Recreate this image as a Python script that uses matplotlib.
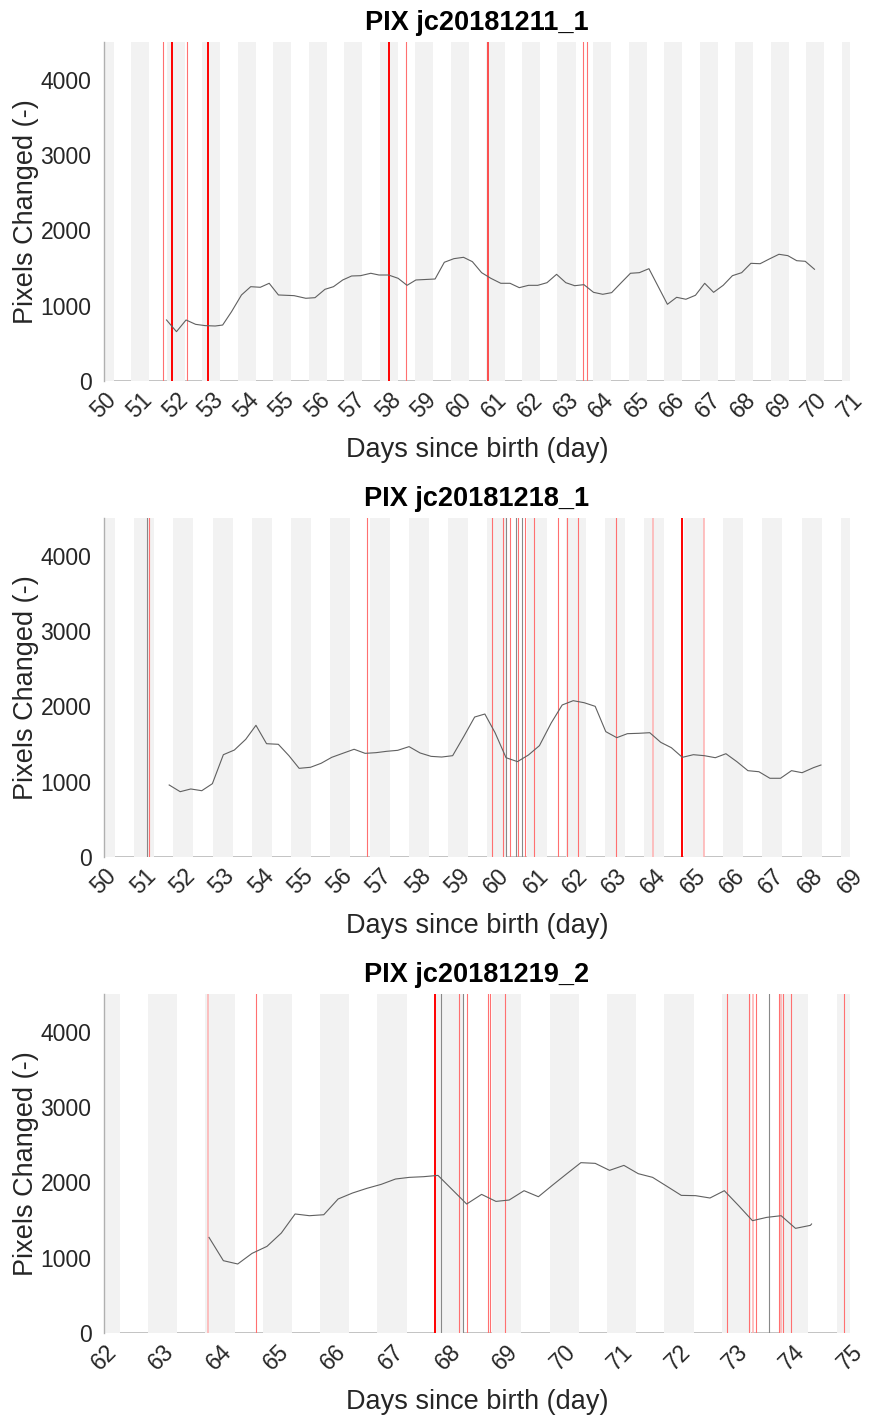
import matplotlib
matplotlib.use("Agg")
import matplotlib.pyplot as plt
import numpy as np

plt.rcParams['font.family'] = ['Liberation Sans', 'DejaVu Sans']

# ---------------- data ----------------
titles = ["PIX jc20181211_1", "PIX jc20181218_1", "PIX jc20181219_2"]
xlims = [(50, 71), (50, 69), (62, 75)]

days1 = [51.76, 52.04, 52.31, 52.58, 52.85, 53.13, 53.34, 53.59, 53.87, 54.13, 54.40, 54.65,
         54.91, 55.35, 55.68, 55.94, 56.22, 56.46, 56.72, 56.97, 57.22, 57.51, 57.74, 58.01,
         58.28, 58.53, 58.78, 59.32, 59.58, 59.85, 60.12, 60.37, 60.63, 60.89, 61.17, 61.43,
         61.69, 61.95, 62.21, 62.47, 62.74, 63.00, 63.25, 63.51, 63.78, 64.04, 64.29, 64.56,
         64.82, 65.07, 65.34, 65.86, 66.12, 66.38, 66.65, 66.91, 67.16, 67.43, 67.69, 67.95,
         68.21, 68.47, 68.73, 69.00, 69.25, 69.50, 69.74, 70.00]
pix1 = [810, 655, 810, 752, 735, 730, 743, 920, 1142, 1252, 1244, 1297,
        1142, 1133, 1098, 1106, 1217, 1252, 1341, 1394, 1398, 1430, 1407, 1407,
        1363, 1270, 1341, 1354, 1576, 1624, 1642, 1584, 1438, 1363, 1297, 1297,
        1239, 1270, 1270, 1305, 1416, 1305, 1265, 1279, 1177, 1151, 1173, 1305,
        1430, 1438, 1491, 1018, 1111, 1085, 1138, 1297, 1177, 1270, 1398, 1438,
        1562, 1557, 1620, 1682, 1664, 1597, 1589, 1483]

days2 = [51.66, 51.94, 52.21, 52.49, 52.76, 53.04, 53.32, 53.61, 53.87, 54.14, 54.44, 54.71,
         54.97, 55.26, 55.53, 55.80, 56.08, 56.37, 56.65, 56.93, 57.20, 57.48, 57.77, 58.05,
         58.33, 58.60, 58.88, 59.17, 59.44, 59.70, 59.96, 60.24, 60.53, 60.81, 61.09, 61.39,
         61.67, 61.95, 62.23, 62.51, 62.78, 63.06, 63.33, 63.62, 63.90, 64.18, 64.45, 64.73,
         65.01, 65.29, 65.57, 65.84, 66.12, 66.40, 66.68, 66.96, 67.23, 67.51, 67.78, 68.07,
         68.26]
pix2 = [956, 867, 903, 880, 973, 1358, 1420, 1562, 1748, 1504, 1496, 1345,
        1177, 1191, 1244, 1323, 1376, 1430, 1376, 1385, 1403, 1416, 1465, 1381,
        1336, 1327, 1345, 1606, 1858, 1898, 1650, 1318, 1266, 1354, 1478, 1779,
        2018, 2075, 2048, 2000, 1664, 1584, 1637, 1642, 1650, 1522, 1451, 1323,
        1358, 1345, 1318, 1371, 1265, 1146, 1132, 1045, 1045, 1146, 1119, 1186,
        1221]

days3 = [63.83, 64.08, 64.33, 64.58, 64.84, 65.09, 65.33, 65.58, 65.83, 66.08, 66.33, 66.58,
         66.83, 67.08, 67.32, 67.57, 67.82, 68.07, 68.32, 68.58, 68.83, 69.06, 69.32, 69.57,
         69.82, 70.06, 70.31, 70.56, 70.81, 71.06, 71.31, 71.56, 71.81, 72.06, 72.31, 72.56,
         72.81, 73.06, 73.30, 73.55, 73.80, 74.05, 74.31, 74.33]
pix3 = [1269, 960, 916, 1057, 1150, 1327, 1580, 1557, 1570, 1779, 1858, 1920,
        1973, 2044, 2066, 2075, 2092, 1902, 1712, 1840, 1747, 1765, 1889, 1809,
        1965, 2111, 2261, 2252, 2159, 2225, 2115, 2066, 1947, 1827, 1823, 1792,
        1889, 1690, 1491, 1535, 1557, 1389, 1429, 1447]

# event markers: time (day) and event kind
ev_days1 = [51.67, 51.92, 52.34, 52.94, 58.01, 58.51, 60.82, 63.49, 63.59]
ev_kind1 = ['weak', 'strong', 'weak', 'strong', 'strong', 'weak', 'mid', 'weak', 'weak']

ev_days2 = [51.10, 51.15, 56.71, 59.89, 60.17, 60.23, 60.33, 60.49, 60.54, 60.64, 60.73,
            60.94, 61.57, 61.78, 62.06, 63.05, 63.98, 64.73, 65.29]
ev_kind2 = ['gray', 'weak', 'weak', 'weak', 'weak', 'gray', 'weak', 'gray', 'weak', 'gray', 'weak',
            'weak', 'weak', 'weak', 'weak', 'weak', 'faint', 'strong', 'faint']

ev_days3 = [63.81, 64.65, 67.76, 67.88, 68.19, 68.26, 68.32, 68.70, 68.73, 68.98,
            72.85, 73.24, 73.31, 73.37, 73.59, 73.77, 73.80, 73.84, 73.97, 74.90]
ev_kind3 = ['faint', 'weak', 'strong', 'gray', 'weak', 'gray', 'weak', 'weak', 'weak', 'weak',
            'weak', 'weak', 'faint', 'weak', 'gray', 'weak', 'faint', 'weak', 'weak', 'weak']

# dark phase within each day (fraction of day): lights off -> lights on next day
dark_start = 0.765
dark_end = 1.275

# ---------------- styling ----------------
ev_style = {
    'strong': dict(color='#ff0000', lw=1.4),
    'mid':    dict(color='#ff2020', lw=1.1),
    'weak':   dict(color='#ff7070', lw=0.8),
    'faint':  dict(color='#ffb0b0', lw=1.1),
    'gray':   dict(color='#888888', lw=0.8),
}

W, H = 869, 1421
fig = plt.figure(figsize=(W / 100, H / 100), dpi=100)

ax_left = 104 / W
ax_w = 746 / W
ax_h = 339 / H
bottoms_px = [381, 857, 1333]

panels = [(days1, pix1, ev_days1, ev_kind1),
          (days2, pix2, ev_days2, ev_kind2),
          (days3, pix3, ev_days3, ev_kind3)]

for i, (d, p, evd, evk) in enumerate(panels):
    ax = fig.add_axes([ax_left, 1 - bottoms_px[i] / H, ax_w, ax_h])
    x0, x1 = xlims[i]
    ax.set_xlim(x0, x1)
    ax.set_ylim(0, 4500)

    ax.axhline(0, color='#bdbdbd', lw=2.0, zorder=1)
    for day in range(int(x0) - 1, int(x1) + 1):
        ax.axvspan(day + dark_start, day + dark_end, color='#f2f2f2', lw=0, zorder=2)

    for t, k in zip(evd, evk):
        ax.axvline(t, zorder=3, **ev_style[k])

    ax.plot(d, p, color='#606060', lw=0.8, zorder=4)

    ax.set_xticks(range(x0, x1 + 1))
    ax.set_xticklabels([str(v) for v in range(x0, x1 + 1)], rotation=45,
                       ha='center', va='top')
    ax.set_yticks([0, 1000, 2000, 3000, 4000])
    ax.tick_params(axis='both', length=0, labelsize=16.5, labelcolor='#262626')
    ax.tick_params(axis='y', pad=9)
    ax.tick_params(axis='x', pad=5)

    for s in ['top', 'right', 'bottom']:
        ax.spines[s].set_visible(False)
    ax.spines['left'].set_color('#b0b0b0')
    ax.spines['left'].set_linewidth(1.0)
    ax.spines['left'].set_zorder(5)

    ax.set_title(titles[i], fontsize=19.5, fontweight='bold', pad=9, color='black')
    ax.set_xlabel('Days since birth (day)', fontsize=19.5, color='#262626')
    ax.set_ylabel('Pixels Changed (-)', fontsize=19.5, color='#262626')
    ax.xaxis.set_label_coords(0.5, -0.165)
    ax.yaxis.set_label_coords(-0.087, 0.5)

fig.savefig('out.png', dpi=100)
